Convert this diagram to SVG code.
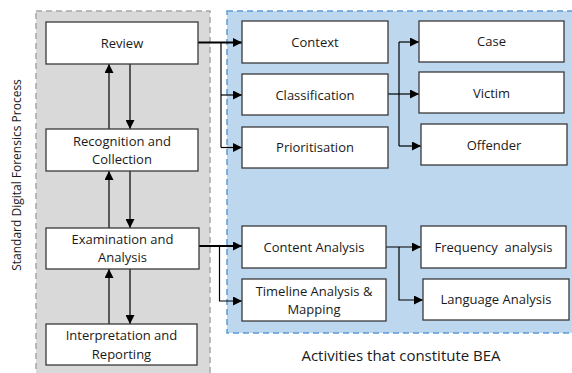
<svg xmlns="http://www.w3.org/2000/svg" width="572" height="373" viewBox="0 0 572 373">
<style>
.box{fill:#fff;stroke:#3a3a3a;stroke-width:1.3}
.t{font-family:"Open Sans","Liberation Sans",Arial,sans-serif;font-size:13px;fill:#1a1a1a;text-anchor:middle}
.c{fill:none;stroke:#000;stroke-width:1.2}
.cb{fill:none;stroke:#000;stroke-width:1.8}
</style>
<defs>
<marker id="ah" viewBox="0 0 10 10" refX="10" refY="5" markerWidth="9" markerHeight="9" markerUnits="userSpaceOnUse" orient="auto">
<path d="M0,0 L10,5 L0,10 z" fill="#000"/>
</marker>
</defs>
<rect x="36" y="11" width="174" height="370" fill="#d9d9d9" stroke="#a6a6a6" stroke-width="1.5" stroke-dasharray="6,4"/>
<rect x="227" y="11" width="355" height="322" fill="#bdd7ee" stroke="#5b9bd5" stroke-width="1.5" stroke-dasharray="6,4"/>
<text class="t" x="0" y="0" transform="translate(21,175) rotate(-90)" style="font-size:12px">Standard Digital Forensics Process</text>
<text class="t" x="401" y="361" style="font-size:15px">Activities that constitute BEA</text>
<g id="connectors">
<path class="c" d="M109,129 V64" marker-end="url(#ah)"/>
<path class="c" d="M130,64 V129" marker-end="url(#ah)"/>
<path class="c" d="M109,228 V171" marker-end="url(#ah)"/>
<path class="c" d="M130,171 V228" marker-end="url(#ah)"/>
<path class="c" d="M109,324 V269" marker-end="url(#ah)"/>
<path class="c" d="M130,269 V324" marker-end="url(#ah)"/>
<path class="cb" d="M198,42.5 H242" marker-end="url(#ah)"/>
<path class="c" d="M221,42.5 V147.5"/>
<path class="c" d="M221,95 H242" marker-end="url(#ah)"/>
<path class="c" d="M221,147.5 H242" marker-end="url(#ah)"/>
<path class="c" d="M388,94 H419" marker-end="url(#ah)"/>
<path class="c" d="M399,42 V146"/>
<path class="c" d="M399,42 H419" marker-end="url(#ah)"/>
<path class="c" d="M399,146 H421" marker-end="url(#ah)"/>
<path class="cb" d="M199,246 H242" marker-end="url(#ah)"/>
<path class="c" d="M219.5,246 V301 H242" marker-end="url(#ah)"/>
<path class="c" d="M386,247 H421" marker-end="url(#ah)"/>
<path class="c" d="M399,247 V300 H423" marker-end="url(#ah)"/>
</g>
<g id="review"><rect class="box" x="46" y="22" width="152" height="42"/><text class="t" x="122" y="47.5">Review</text></g>
<g id="recognition"><rect class="box" x="46" y="129" width="152" height="42"/><text class="t" x="122" y="145.5">Recognition and</text><text class="t" x="122" y="164">Collection</text></g>
<g id="examination"><rect class="box" x="46" y="228" width="153" height="41"/><text class="t" x="122.5" y="243.5">Examination and</text><text class="t" x="122.5" y="262">Analysis</text></g>
<g id="interpretation"><rect class="box" x="46" y="324" width="151" height="41"/><text class="t" x="121.5" y="340">Interpretation and</text><text class="t" x="121.5" y="359">Reporting</text></g>
<g id="context"><rect class="box" x="242" y="21" width="146" height="42"/><text class="t" x="315" y="46.5">Context</text></g>
<g id="classification"><rect class="box" x="242" y="74" width="146" height="41"/><text class="t" x="315" y="99.5">Classification</text></g>
<g id="prioritisation"><rect class="box" x="242" y="127" width="146" height="41"/><text class="t" x="315" y="152">Prioritisation</text></g>
<g id="case"><rect class="box" x="419" y="21" width="145" height="41"/><text class="t" x="491.5" y="46">Case</text></g>
<g id="victim"><rect class="box" x="419" y="72" width="145" height="41"/><text class="t" x="491.5" y="97.5">Victim</text></g>
<g id="offender"><rect class="box" x="421" y="124" width="146" height="41"/><text class="t" x="494" y="149.5">Offender</text></g>
<g id="content"><rect class="box" x="242" y="226" width="144" height="42"/><text class="t" x="314" y="251.5">Content Analysis</text></g>
<g id="timeline"><rect class="box" x="242" y="279" width="144" height="42"/><text class="t" x="314" y="295.5">Timeline Analysis &amp;</text><text class="t" x="314" y="314">Mapping</text></g>
<g id="frequency"><rect class="box" x="421" y="226" width="145" height="42"/><text class="t" x="493.5" y="251.5" style="white-space:pre">Frequency  analysis</text></g>
<g id="language"><rect class="box" x="423" y="279" width="146" height="41"/><text class="t" x="496" y="304">Language Analysis</text></g>
</svg>
